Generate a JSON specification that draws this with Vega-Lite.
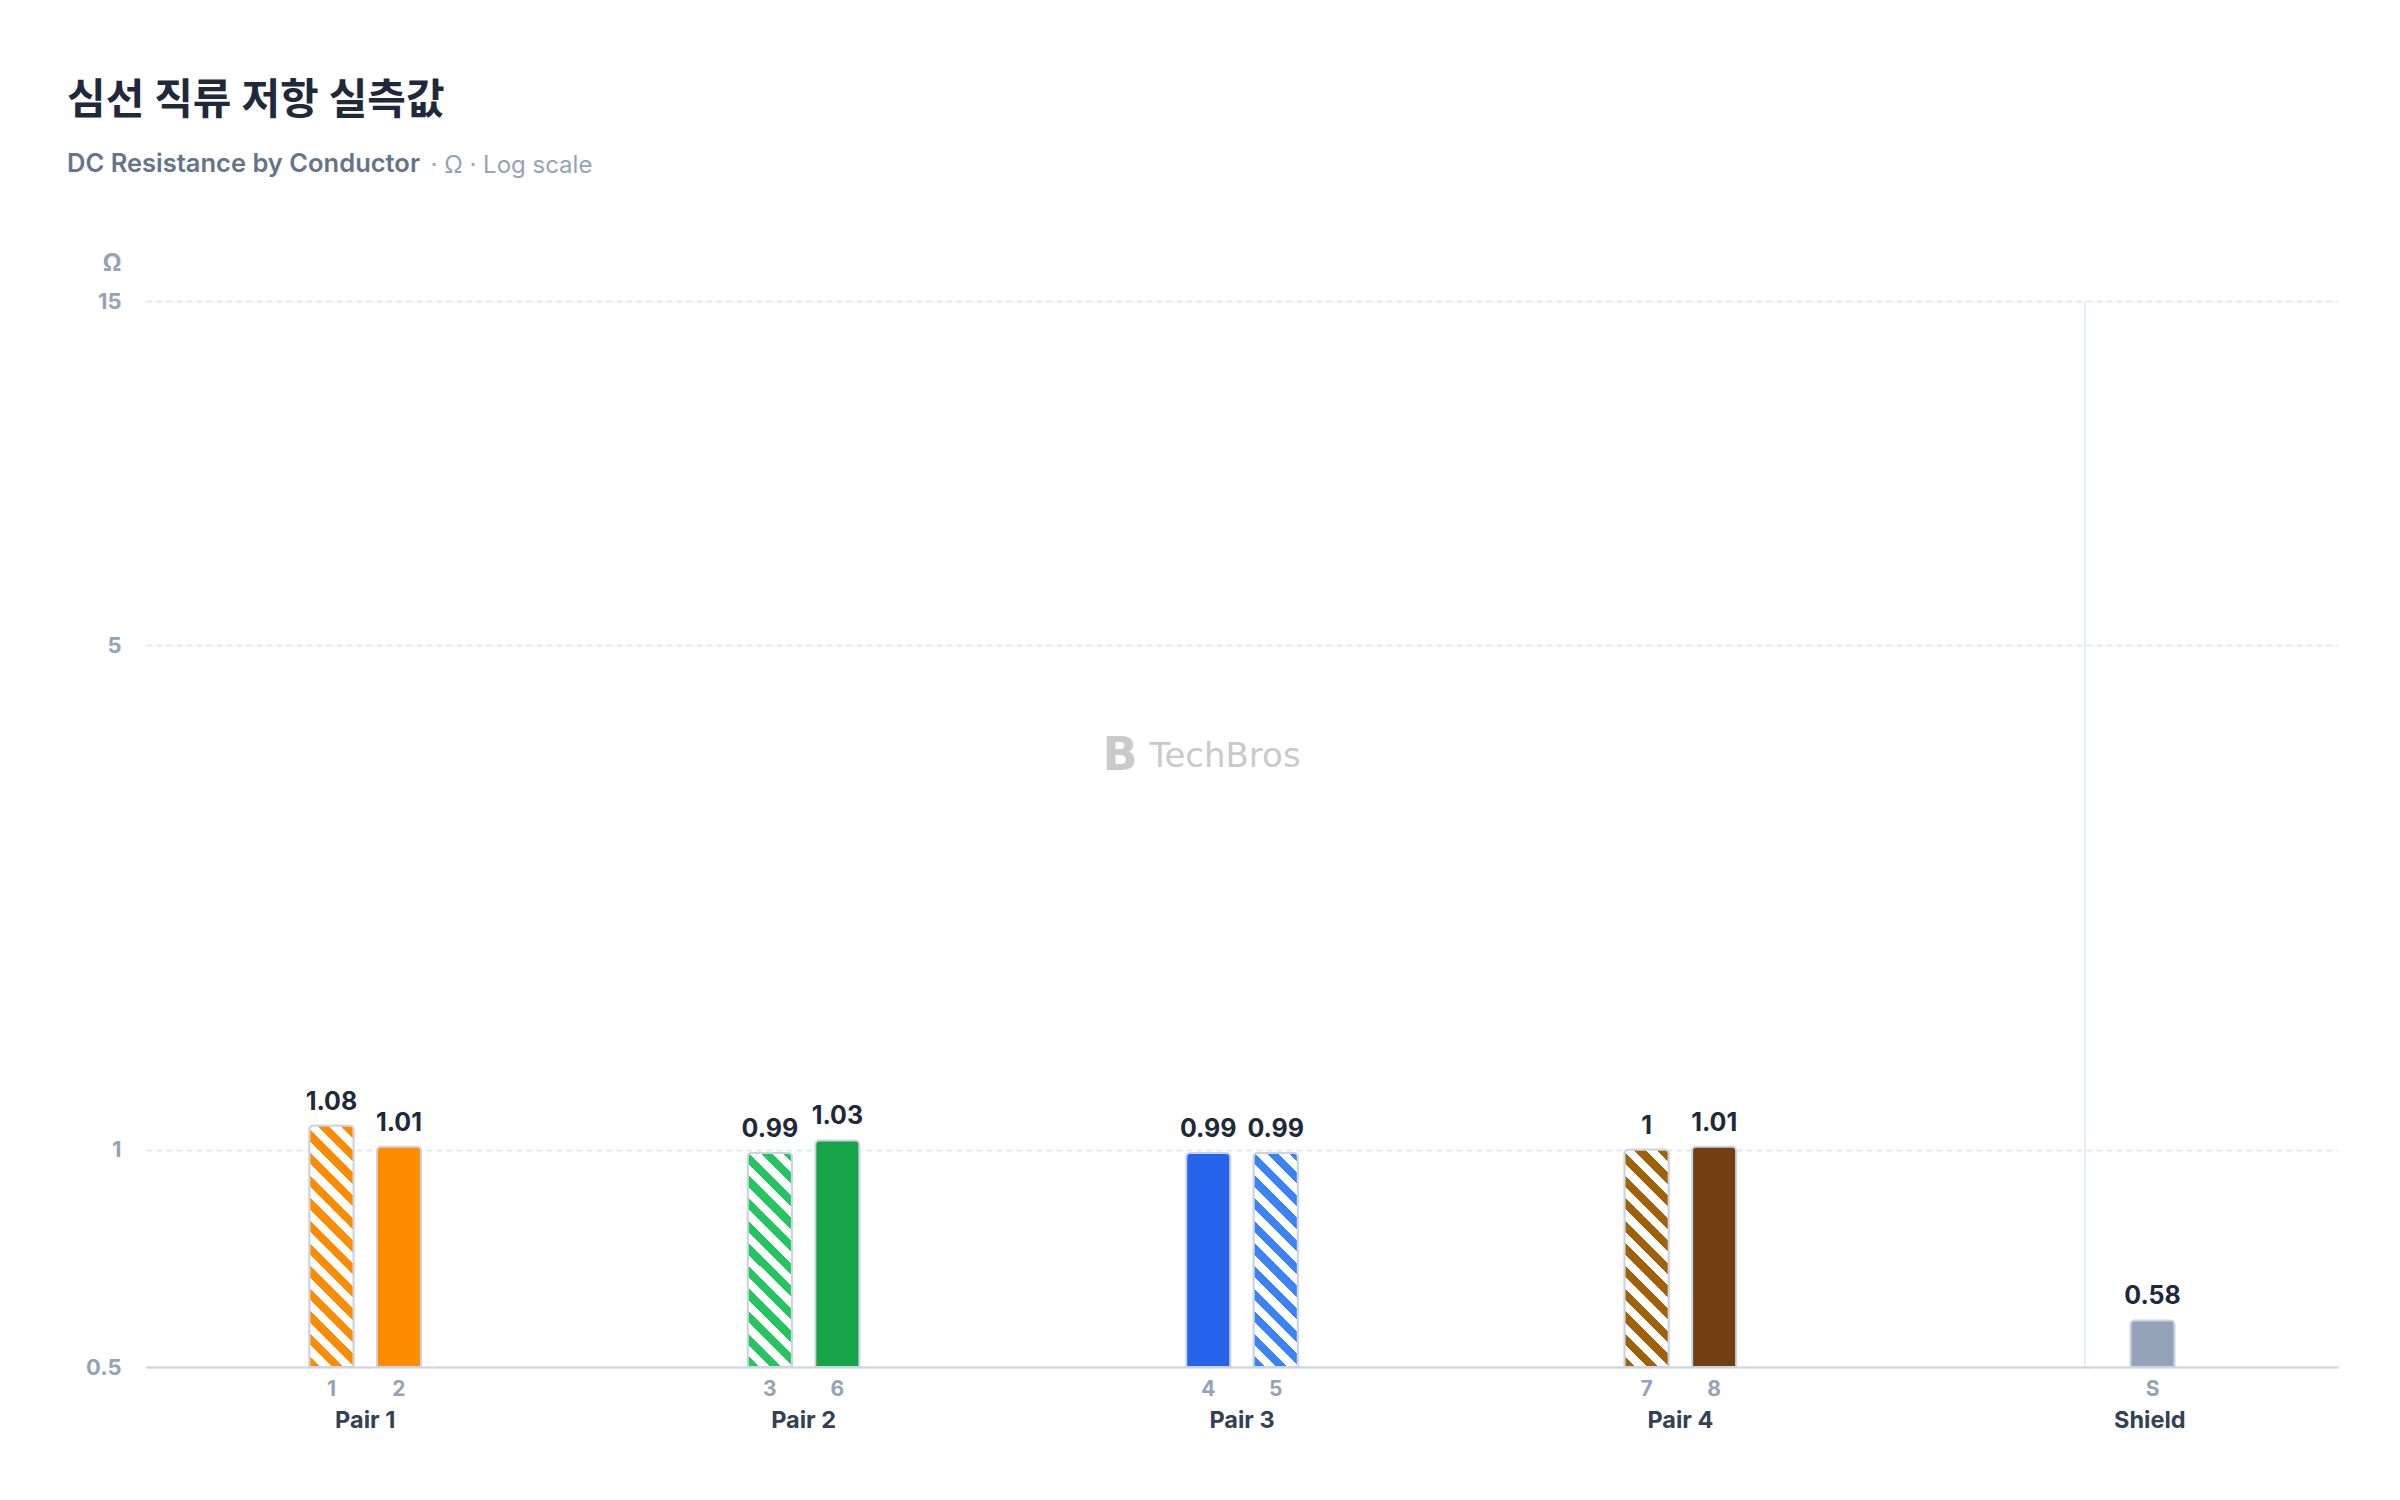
{
  "$schema": "https://vega.github.io/schema/vega-lite/v6.json",
  "autosize": "none",
  "padding": {"left": 146, "top": 301, "right": 62, "bottom": 133},
  "width": 2192,
  "height": 1066,
  "background": "#ffffff",
  "title": {
    "text": "심선 직류 저항 실측값",
    "subtitle": "DC Resistance by Conductor",
    "anchor": "start",
    "frame": "group",
    "dx": -79,
    "dy": 29,
    "font": "Inter, Noto Sans CJK KR",
    "fontSize": 42,
    "fontWeight": 700,
    "color": "#1e293b",
    "subtitleFont": "Inter",
    "subtitleFontSize": 25.5,
    "subtitleFontWeight": 600,
    "subtitleColor": "#64748b",
    "subtitlePadding": 29.5
  },
  "data": {
    "values": [
      {"group": "Pair 1", "slot": "a", "conductor": "1", "value": 1.08},
      {"group": "Pair 1", "slot": "b", "conductor": "2", "value": 1.01},
      {"group": "Pair 2", "slot": "a", "conductor": "3", "value": 0.99},
      {"group": "Pair 2", "slot": "b", "conductor": "6", "value": 1.03},
      {"group": "Pair 3", "slot": "a", "conductor": "4", "value": 0.99},
      {"group": "Pair 3", "slot": "b", "conductor": "5", "value": 0.99},
      {"group": "Pair 4", "slot": "a", "conductor": "7", "value": 1.0},
      {"group": "Pair 4", "slot": "b", "conductor": "8", "value": 1.01},
      {"group": "Shield", "slot": "b", "conductor": "S", "value": 0.58}
    ]
  },
  "layer": [
    {
      "data": {"values": [{}]},
      "mark": {"type": "text", "text": "TechBros", "font": "DejaVu Sans", "fontSize": 34, "color": "#cacaca", "baseline": "alphabetic", "align": "center", "dx": -17},
      "encoding": {
        "x": {"datum": "Pair 3", "type": "nominal", "scale": {"domain": ["Pair 1", "Pair 2", "Pair 3", "Pair 4", "Shield"], "paddingInner": 0.4377, "paddingOuter": 0.2189}},
        "y": {"datum": 3.39, "type": "quantitative", "scale": {"type": "log", "domain": [0.5, 15], "nice": false}}
      }
    },
    {
      "data": {"values": [{}]},
      "mark": {"type": "text", "text": "B", "font": "DejaVu Sans", "fontSize": 46, "fontWeight": 700, "color": "#cacaca", "baseline": "alphabetic", "align": "center", "dx": -122, "dy": 3},
      "encoding": {
        "x": {"datum": "Pair 3", "type": "nominal", "scale": {"domain": ["Pair 1", "Pair 2", "Pair 3", "Pair 4", "Shield"], "paddingInner": 0.4377, "paddingOuter": 0.2189}},
        "y": {"datum": 3.39, "type": "quantitative", "scale": {"type": "log", "domain": [0.5, 15], "nice": false}}
      }
    },
    {
      "data": {"values": [{}]},
      "mark": {"type": "rule", "color": "#e2e8f0", "strokeWidth": 1.5},
      "encoding": {
        "x": {"datum": "Shield", "type": "nominal", "scale": {"domain": ["Pair 1", "Pair 2", "Pair 3", "Pair 4", "Shield"], "paddingInner": 0.4377, "paddingOuter": 0.2189}},
        "xOffset": {"datum": "a", "type": "nominal", "scale": {"domain": ["a", "b"], "paddingInner": 0.348, "paddingOuter": 1}}
      }
    },
    {
      "mark": {"type": "bar", "stroke": "#cbd5e1", "strokeWidth": 2, "cornerRadiusTopLeft": 4, "cornerRadiusTopRight": 4},
      "encoding": {
        "x": {
          "field": "group", "type": "nominal", "title": "· Ω · Log scale",
          "scale": {"domain": ["Pair 1", "Pair 2", "Pair 3", "Pair 4", "Shield"], "paddingInner": 0.4377, "paddingOuter": 0.2189},
          "axis": {"labelOffset": {"condition": {"test": "datum.value === 'Shield'", "value": 31}, "value": 0}}
        },
        "xOffset": {"field": "slot", "type": "nominal", "scale": {"domain": ["a", "b"], "paddingInner": 0.348, "paddingOuter": 1}},
        "y": {
          "field": "value", "type": "quantitative", "title": "Ω",
          "scale": {"type": "log", "domain": [0.5, 15], "nice": false},
          "axis": {"values": [0.5, 1, 5, 15], "format": "~g"}
        },
        "y2": {"datum": 0.5},
        "fill": {
          "field": "conductor", "type": "nominal", "legend": null,
          "scale": {
            "domain": ["1", "2", "3", "6", "4", "5", "7", "8", "S"],
            "range": ["#ff8c00", "#ff8c00", "#22c55e", "#16a34a", "#2563eb", "#3b82f6", "#a16207", "#713f12", "#94a3b8"]
          }
        }
      }
    },
    {
      "transform": [{"filter": "datum.conductor === '1'"}],
      "mark": {
        "type": "bar", "stroke": "#cbd5e1", "strokeWidth": 2, "cornerRadiusTopLeft": 4, "cornerRadiusTopRight": 4,
        "fill": {
          "gradient": "linear", "x1": 0, "y1": 1, "x2": 0.2086, "y2": -0.1443,
          "stops": [
            {"offset": 0, "color": "#ff8c00"}, {"offset": 0.0397, "color": "#ff8c00"},
            {"offset": 0.0397, "color": "#ffffff"}, {"offset": 0.0793, "color": "#ffffff"},
            {"offset": 0.0793, "color": "#ff8c00"}, {"offset": 0.119, "color": "#ff8c00"},
            {"offset": 0.119, "color": "#ffffff"}, {"offset": 0.1586, "color": "#ffffff"},
            {"offset": 0.1586, "color": "#ff8c00"}, {"offset": 0.1983, "color": "#ff8c00"},
            {"offset": 0.1983, "color": "#ffffff"}, {"offset": 0.2379, "color": "#ffffff"},
            {"offset": 0.2379, "color": "#ff8c00"}, {"offset": 0.2776, "color": "#ff8c00"},
            {"offset": 0.2776, "color": "#ffffff"}, {"offset": 0.3172, "color": "#ffffff"},
            {"offset": 0.3172, "color": "#ff8c00"}, {"offset": 0.3569, "color": "#ff8c00"},
            {"offset": 0.3569, "color": "#ffffff"}, {"offset": 0.3965, "color": "#ffffff"},
            {"offset": 0.3965, "color": "#ff8c00"}, {"offset": 0.4362, "color": "#ff8c00"},
            {"offset": 0.4362, "color": "#ffffff"}, {"offset": 0.4758, "color": "#ffffff"},
            {"offset": 0.4758, "color": "#ff8c00"}, {"offset": 0.5155, "color": "#ff8c00"},
            {"offset": 0.5155, "color": "#ffffff"}, {"offset": 0.5551, "color": "#ffffff"},
            {"offset": 0.5551, "color": "#ff8c00"}, {"offset": 0.5948, "color": "#ff8c00"},
            {"offset": 0.5948, "color": "#ffffff"}, {"offset": 0.6344, "color": "#ffffff"},
            {"offset": 0.6344, "color": "#ff8c00"}, {"offset": 0.6741, "color": "#ff8c00"},
            {"offset": 0.6741, "color": "#ffffff"}, {"offset": 0.7137, "color": "#ffffff"},
            {"offset": 0.7137, "color": "#ff8c00"}, {"offset": 0.7534, "color": "#ff8c00"},
            {"offset": 0.7534, "color": "#ffffff"}, {"offset": 0.793, "color": "#ffffff"},
            {"offset": 0.793, "color": "#ff8c00"}, {"offset": 0.8327, "color": "#ff8c00"},
            {"offset": 0.8327, "color": "#ffffff"}, {"offset": 0.8723, "color": "#ffffff"},
            {"offset": 0.8723, "color": "#ff8c00"}, {"offset": 0.912, "color": "#ff8c00"},
            {"offset": 0.912, "color": "#ffffff"}, {"offset": 0.9516, "color": "#ffffff"},
            {"offset": 0.9516, "color": "#ff8c00"}, {"offset": 0.9913, "color": "#ff8c00"},
            {"offset": 0.9913, "color": "#ffffff"}, {"offset": 1, "color": "#ffffff"}
          ]
        }
      },
      "encoding": {
        "x": {"field": "group", "type": "nominal", "title": "· Ω · Log scale", "scale": {"domain": ["Pair 1", "Pair 2", "Pair 3", "Pair 4", "Shield"], "paddingInner": 0.4377, "paddingOuter": 0.2189}},
        "xOffset": {"field": "slot", "type": "nominal", "scale": {"domain": ["a", "b"], "paddingInner": 0.348, "paddingOuter": 1}},
        "y": {"field": "value", "type": "quantitative", "title": "Ω", "scale": {"type": "log", "domain": [0.5, 15], "nice": false}},
        "y2": {"datum": 0.5}
      }
    },
    {
      "transform": [{"filter": "datum.conductor === '3'"}],
      "mark": {
        "type": "bar", "stroke": "#cbd5e1", "strokeWidth": 2, "cornerRadiusTopLeft": 4, "cornerRadiusTopRight": 4,
        "fill": {
          "gradient": "linear", "x1": 0, "y1": 1, "x2": 0.2377, "y2": -0.1566,
          "stops": [
            {"offset": 0, "color": "#22c55e"}, {"offset": 0.0438, "color": "#22c55e"},
            {"offset": 0.0438, "color": "#ffffff"}, {"offset": 0.0877, "color": "#ffffff"},
            {"offset": 0.0877, "color": "#22c55e"}, {"offset": 0.1315, "color": "#22c55e"},
            {"offset": 0.1315, "color": "#ffffff"}, {"offset": 0.1754, "color": "#ffffff"},
            {"offset": 0.1754, "color": "#22c55e"}, {"offset": 0.2192, "color": "#22c55e"},
            {"offset": 0.2192, "color": "#ffffff"}, {"offset": 0.263, "color": "#ffffff"},
            {"offset": 0.263, "color": "#22c55e"}, {"offset": 0.3069, "color": "#22c55e"},
            {"offset": 0.3069, "color": "#ffffff"}, {"offset": 0.3507, "color": "#ffffff"},
            {"offset": 0.3507, "color": "#22c55e"}, {"offset": 0.3946, "color": "#22c55e"},
            {"offset": 0.3946, "color": "#ffffff"}, {"offset": 0.4384, "color": "#ffffff"},
            {"offset": 0.4384, "color": "#22c55e"}, {"offset": 0.4822, "color": "#22c55e"},
            {"offset": 0.4822, "color": "#ffffff"}, {"offset": 0.5261, "color": "#ffffff"},
            {"offset": 0.5261, "color": "#22c55e"}, {"offset": 0.5699, "color": "#22c55e"},
            {"offset": 0.5699, "color": "#ffffff"}, {"offset": 0.6138, "color": "#ffffff"},
            {"offset": 0.6138, "color": "#22c55e"}, {"offset": 0.6576, "color": "#22c55e"},
            {"offset": 0.6576, "color": "#ffffff"}, {"offset": 0.7014, "color": "#ffffff"},
            {"offset": 0.7014, "color": "#22c55e"}, {"offset": 0.7453, "color": "#22c55e"},
            {"offset": 0.7453, "color": "#ffffff"}, {"offset": 0.7891, "color": "#ffffff"},
            {"offset": 0.7891, "color": "#22c55e"}, {"offset": 0.833, "color": "#22c55e"},
            {"offset": 0.833, "color": "#ffffff"}, {"offset": 0.8768, "color": "#ffffff"},
            {"offset": 0.8768, "color": "#22c55e"}, {"offset": 0.9206, "color": "#22c55e"},
            {"offset": 0.9206, "color": "#ffffff"}, {"offset": 0.9645, "color": "#ffffff"},
            {"offset": 0.9645, "color": "#22c55e"}, {"offset": 1, "color": "#22c55e"}
          ]
        }
      },
      "encoding": {
        "x": {"field": "group", "type": "nominal", "title": "· Ω · Log scale", "scale": {"domain": ["Pair 1", "Pair 2", "Pair 3", "Pair 4", "Shield"], "paddingInner": 0.4377, "paddingOuter": 0.2189}},
        "xOffset": {"field": "slot", "type": "nominal", "scale": {"domain": ["a", "b"], "paddingInner": 0.348, "paddingOuter": 1}},
        "y": {"field": "value", "type": "quantitative", "title": "Ω", "scale": {"type": "log", "domain": [0.5, 15], "nice": false}},
        "y2": {"datum": 0.5}
      }
    },
    {
      "transform": [{"filter": "datum.conductor === '5'"}],
      "mark": {
        "type": "bar", "stroke": "#cbd5e1", "strokeWidth": 2, "cornerRadiusTopLeft": 4, "cornerRadiusTopRight": 4,
        "fill": {
          "gradient": "linear", "x1": 0, "y1": 1, "x2": 0.2377, "y2": -0.1566,
          "stops": [
            {"offset": 0, "color": "#3b82f6"}, {"offset": 0.0438, "color": "#3b82f6"},
            {"offset": 0.0438, "color": "#ffffff"}, {"offset": 0.0877, "color": "#ffffff"},
            {"offset": 0.0877, "color": "#3b82f6"}, {"offset": 0.1315, "color": "#3b82f6"},
            {"offset": 0.1315, "color": "#ffffff"}, {"offset": 0.1754, "color": "#ffffff"},
            {"offset": 0.1754, "color": "#3b82f6"}, {"offset": 0.2192, "color": "#3b82f6"},
            {"offset": 0.2192, "color": "#ffffff"}, {"offset": 0.263, "color": "#ffffff"},
            {"offset": 0.263, "color": "#3b82f6"}, {"offset": 0.3069, "color": "#3b82f6"},
            {"offset": 0.3069, "color": "#ffffff"}, {"offset": 0.3507, "color": "#ffffff"},
            {"offset": 0.3507, "color": "#3b82f6"}, {"offset": 0.3946, "color": "#3b82f6"},
            {"offset": 0.3946, "color": "#ffffff"}, {"offset": 0.4384, "color": "#ffffff"},
            {"offset": 0.4384, "color": "#3b82f6"}, {"offset": 0.4822, "color": "#3b82f6"},
            {"offset": 0.4822, "color": "#ffffff"}, {"offset": 0.5261, "color": "#ffffff"},
            {"offset": 0.5261, "color": "#3b82f6"}, {"offset": 0.5699, "color": "#3b82f6"},
            {"offset": 0.5699, "color": "#ffffff"}, {"offset": 0.6138, "color": "#ffffff"},
            {"offset": 0.6138, "color": "#3b82f6"}, {"offset": 0.6576, "color": "#3b82f6"},
            {"offset": 0.6576, "color": "#ffffff"}, {"offset": 0.7014, "color": "#ffffff"},
            {"offset": 0.7014, "color": "#3b82f6"}, {"offset": 0.7453, "color": "#3b82f6"},
            {"offset": 0.7453, "color": "#ffffff"}, {"offset": 0.7891, "color": "#ffffff"},
            {"offset": 0.7891, "color": "#3b82f6"}, {"offset": 0.833, "color": "#3b82f6"},
            {"offset": 0.833, "color": "#ffffff"}, {"offset": 0.8768, "color": "#ffffff"},
            {"offset": 0.8768, "color": "#3b82f6"}, {"offset": 0.9206, "color": "#3b82f6"},
            {"offset": 0.9206, "color": "#ffffff"}, {"offset": 0.9645, "color": "#ffffff"},
            {"offset": 0.9645, "color": "#3b82f6"}, {"offset": 1, "color": "#3b82f6"}
          ]
        }
      },
      "encoding": {
        "x": {"field": "group", "type": "nominal", "title": "· Ω · Log scale", "scale": {"domain": ["Pair 1", "Pair 2", "Pair 3", "Pair 4", "Shield"], "paddingInner": 0.4377, "paddingOuter": 0.2189}},
        "xOffset": {"field": "slot", "type": "nominal", "scale": {"domain": ["a", "b"], "paddingInner": 0.348, "paddingOuter": 1}},
        "y": {"field": "value", "type": "quantitative", "title": "Ω", "scale": {"type": "log", "domain": [0.5, 15], "nice": false}},
        "y2": {"datum": 0.5}
      }
    },
    {
      "transform": [{"filter": "datum.conductor === '7'"}],
      "mark": {
        "type": "bar", "stroke": "#cbd5e1", "strokeWidth": 2, "cornerRadiusTopLeft": 4, "cornerRadiusTopRight": 4,
        "fill": {
          "gradient": "linear", "x1": 0, "y1": 1, "x2": 0.2339, "y2": -0.1553,
          "stops": [
            {"offset": 0, "color": "#a16207"}, {"offset": 0.0433, "color": "#a16207"},
            {"offset": 0.0433, "color": "#ffffff"}, {"offset": 0.0866, "color": "#ffffff"},
            {"offset": 0.0866, "color": "#a16207"}, {"offset": 0.1299, "color": "#a16207"},
            {"offset": 0.1299, "color": "#ffffff"}, {"offset": 0.1732, "color": "#ffffff"},
            {"offset": 0.1732, "color": "#a16207"}, {"offset": 0.2165, "color": "#a16207"},
            {"offset": 0.2165, "color": "#ffffff"}, {"offset": 0.2598, "color": "#ffffff"},
            {"offset": 0.2598, "color": "#a16207"}, {"offset": 0.3031, "color": "#a16207"},
            {"offset": 0.3031, "color": "#ffffff"}, {"offset": 0.3464, "color": "#ffffff"},
            {"offset": 0.3464, "color": "#a16207"}, {"offset": 0.3897, "color": "#a16207"},
            {"offset": 0.3897, "color": "#ffffff"}, {"offset": 0.433, "color": "#ffffff"},
            {"offset": 0.433, "color": "#a16207"}, {"offset": 0.4763, "color": "#a16207"},
            {"offset": 0.4763, "color": "#ffffff"}, {"offset": 0.5196, "color": "#ffffff"},
            {"offset": 0.5196, "color": "#a16207"}, {"offset": 0.5629, "color": "#a16207"},
            {"offset": 0.5629, "color": "#ffffff"}, {"offset": 0.6062, "color": "#ffffff"},
            {"offset": 0.6062, "color": "#a16207"}, {"offset": 0.6495, "color": "#a16207"},
            {"offset": 0.6495, "color": "#ffffff"}, {"offset": 0.6928, "color": "#ffffff"},
            {"offset": 0.6928, "color": "#a16207"}, {"offset": 0.7361, "color": "#a16207"},
            {"offset": 0.7361, "color": "#ffffff"}, {"offset": 0.7794, "color": "#ffffff"},
            {"offset": 0.7794, "color": "#a16207"}, {"offset": 0.8227, "color": "#a16207"},
            {"offset": 0.8227, "color": "#ffffff"}, {"offset": 0.866, "color": "#ffffff"},
            {"offset": 0.866, "color": "#a16207"}, {"offset": 0.9093, "color": "#a16207"},
            {"offset": 0.9093, "color": "#ffffff"}, {"offset": 0.9526, "color": "#ffffff"},
            {"offset": 0.9526, "color": "#a16207"}, {"offset": 0.9959, "color": "#a16207"},
            {"offset": 0.9959, "color": "#ffffff"}, {"offset": 1, "color": "#ffffff"}
          ]
        }
      },
      "encoding": {
        "x": {"field": "group", "type": "nominal", "title": "· Ω · Log scale", "scale": {"domain": ["Pair 1", "Pair 2", "Pair 3", "Pair 4", "Shield"], "paddingInner": 0.4377, "paddingOuter": 0.2189}},
        "xOffset": {"field": "slot", "type": "nominal", "scale": {"domain": ["a", "b"], "paddingInner": 0.348, "paddingOuter": 1}},
        "y": {"field": "value", "type": "quantitative", "title": "Ω", "scale": {"type": "log", "domain": [0.5, 15], "nice": false}},
        "y2": {"datum": 0.5}
      }
    },
    {
      "mark": {"type": "text", "font": "Inter", "fontSize": 25, "fontWeight": 700, "color": "#1e293b", "baseline": "alphabetic", "dy": -16},
      "encoding": {
        "x": {"field": "group", "type": "nominal", "title": "· Ω · Log scale", "scale": {"domain": ["Pair 1", "Pair 2", "Pair 3", "Pair 4", "Shield"], "paddingInner": 0.4377, "paddingOuter": 0.2189}},
        "xOffset": {"field": "slot", "type": "nominal", "scale": {"domain": ["a", "b"], "paddingInner": 0.348, "paddingOuter": 1}},
        "y": {"field": "value", "type": "quantitative", "title": "Ω", "scale": {"type": "log", "domain": [0.5, 15], "nice": false}},
        "text": {"field": "value", "type": "quantitative", "format": "~g"}
      }
    },
    {
      "mark": {"type": "text", "font": "Inter", "fontSize": 21, "fontWeight": 700, "color": "#94a3b8", "baseline": "alphabetic", "dy": 28.5},
      "encoding": {
        "x": {"field": "group", "type": "nominal", "title": "· Ω · Log scale", "scale": {"domain": ["Pair 1", "Pair 2", "Pair 3", "Pair 4", "Shield"], "paddingInner": 0.4377, "paddingOuter": 0.2189}},
        "xOffset": {"field": "slot", "type": "nominal", "scale": {"domain": ["a", "b"], "paddingInner": 0.348, "paddingOuter": 1}},
        "y": {"datum": 0.5, "type": "quantitative", "scale": {"type": "log", "domain": [0.5, 15], "nice": false}},
        "text": {"field": "conductor", "type": "nominal"}
      }
    }
  ],
  "config": {
    "view": {"stroke": null},
    "font": "Inter",
    "axisX": {
      "ticks": false, "grid": false, "domainColor": "#cbd5e1", "domainWidth": 2,
      "labelFont": "Inter", "labelFontSize": 23.5, "labelFontWeight": 700, "labelColor": "#334155",
      "labelPadding": 60, "labelBaseline": "alphabetic", "labelAngle": 0,
      "titleX": 284, "titleY": -1194.5, "titleAlign": "left", "titleBaseline": "alphabetic", "titleAngle": 0,
      "titleFont": "Inter", "titleFontSize": 24, "titleFontWeight": 400, "titleColor": "#94a3b8"
    },
    "axisY": {
      "ticks": false, "domain": false, "grid": true, "gridColor": "#e2e8f0", "gridDash": [6, 4], "gridWidth": 2,
      "labelFont": "Inter", "labelFontSize": 22, "labelFontWeight": 700, "labelColor": "#94a3b8", "labelPadding": 25,
      "titleX": -25, "titleY": -38, "titleAlign": "right", "titleBaseline": "middle", "titleAngle": 0,
      "titleFont": "Inter", "titleFontSize": 24, "titleFontWeight": 700, "titleColor": "#94a3b8"
    }
  }
}
